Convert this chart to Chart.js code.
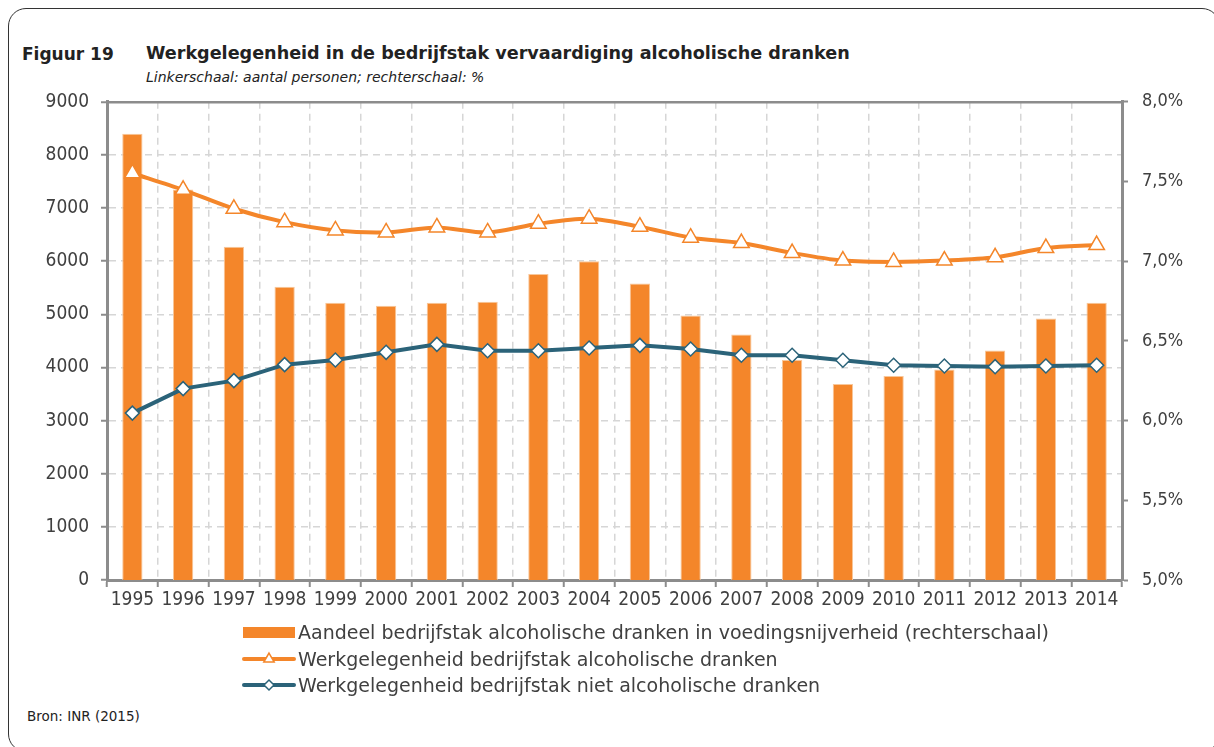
<!DOCTYPE html>
<html>
<head>
<meta charset="utf-8">
<script src="https://cdn.jsdelivr.net/npm/chart.js@4.4.0/dist/chart.umd.min.js"></script>
<style>
  html, body { margin: 0; padding: 0; background: #fff; }
  body { width: 1214px; height: 747px; position: relative; overflow: hidden; font-family: "DejaVu Sans", sans-serif; color: #333; }
  #frame { position: absolute; left: 8px; top: 8px; width: 1210px; height: 742px; border: 1.5px solid #333; border-radius: 18px; }
  #fig { position: absolute; left: 22px; top: 44px; font-weight: bold; font-size: 17px; color: #222; }
  #title { position: absolute; left: 146px; top: 43px; font-weight: bold; font-size: 17.6px; color: #222; }
  #sub { position: absolute; left: 146px; top: 69px; font-style: italic; font-size: 14px; color: #222; }
  #wrap { position: absolute; left: 0; top: 77px; width: 1214px; height: 533px; }
  #legend { position: absolute; left: 242px; top: 619px; font-size: 19px; color: #404040; }
  .row { height: 26.5px; display: flex; align-items: center; white-space: nowrap; }
  .row canvas { margin-right: 2px; }
  #bron { position: absolute; left: 27px; top: 708px; font-size: 13.5px; color: #222; }
</style>
</head>
<body>
<div id="frame"></div>
<div id="fig">Figuur 19</div>
<div id="title">Werkgelegenheid in de bedrijfstak vervaardiging alcoholische dranken</div>
<div id="sub">Linkerschaal: aantal personen; rechterschaal: %</div>
<div id="wrap"><canvas id="chart"></canvas></div>
<div id="legend"></div>
<div id="bron">Bron: INR (2015)</div>
<script>
// jaren en reeksen
var jaren = ['1995', '1996', '1997', '1998', '1999', '2000', '2001', '2002', '2003', '2004',
             '2005', '2006', '2007', '2008', '2009', '2010', '2011', '2012', '2013', '2014'];
var aandeelAlcohol = [7.80, 7.45, 7.09, 6.84, 6.74, 6.72, 6.74, 6.745, 6.92, 7.00,
                      6.86, 6.66, 6.54, 6.38, 6.23, 6.28, 6.32, 6.44, 6.64, 6.74];
var werkAlcohol = [7655, 7343, 6987, 6735, 6580, 6542, 6636, 6542, 6705, 6799,
                   6649, 6443, 6341, 6154, 6011, 5985, 6011, 6073, 6248, 6304];
var werkNietAlcohol = [3141, 3602, 3752, 4053, 4141, 4285, 4435, 4315, 4315, 4366,
                       4416, 4347, 4229, 4229, 4135, 4041, 4028, 4015, 4028, 4041];
var linksTicks = [0, 9000, 1000];
var rechtsTicks = [5, 8, 0.5];

var oranje = '#F4862A';
var blauw = '#2B6379';
var grijs = '#8c8c8c';
var raster = '#d6d6d6';
var tickFont = { family: 'DejaVu Sans Condensed', size: 19 };

var labels = {
  bar: 'Aandeel bedrijfstak alcoholische dranken in voedingsnijverheid (rechterschaal)',
  alc: 'Werkgelegenheid bedrijfstak alcoholische dranken',
  niet: 'Werkgelegenheid bedrijfstak niet alcoholische dranken'
};

var ctx = document.getElementById('chart').getContext('2d');
var chart = new Chart(ctx, {
  type: 'bar',
  data: {
    labels: jaren,
    datasets: [{
      type: 'line',
      label: labels.alc,
      data: werkAlcohol,
      yAxisID: 'y',
      borderColor: oranje,
      borderWidth: 4,
      tension: 0.3,
      pointStyle: 'triangle',
      pointRadius: 9,
      pointBackgroundColor: '#fff',
      pointBorderColor: oranje,
      pointBorderWidth: 1.5,
      order: 1
    }, {
      type: 'line',
      label: labels.niet,
      data: werkNietAlcohol,
      yAxisID: 'y',
      borderColor: blauw,
      borderWidth: 4,
      tension: 0,
      pointStyle: 'rectRot',
      pointRadius: 7,
      pointBackgroundColor: '#fff',
      pointBorderColor: blauw,
      pointBorderWidth: 1.5,
      order: 2
    }, {
      label: labels.bar,
      data: aandeelAlcohol,
      yAxisID: 'y1',
      backgroundColor: oranje,
      borderColor: '#f8c79a',
      borderWidth: 1,
      barPercentage: 0.4,
      categoryPercentage: 1.0,
      order: 3
    }]
  },
  options: {
    responsive: true,
    maintainAspectRatio: false,
    animation: false,
    layout: { padding: { top: 10, left: 0, right: 0, bottom: 0 } },
    plugins: {
      legend: { display: false },
      tooltip: { enabled: false }
    },
    scales: {
      x: {
        offset: true,
        grid: {
          offset: true,
          color: raster,
          lineWidth: 1.5,
          tickLength: 7,
          tickColor: grijs,
          tickWidth: 2
        },
        border: { color: grijs, width: 3, dash: [7, 5] },
        ticks: { color: '#404040', font: tickFont, padding: 2, maxRotation: 0, autoSkip: false },
        afterFit: function (s) { s.height = 30; }
      },
      y: {
        position: 'left',
        min: linksTicks[0],
        max: linksTicks[1],
        ticks: {
          stepSize: linksTicks[2], color: '#404040', font: tickFont, padding: 12,
          callback: function (v) { return String(v); }
        },
        grid: {
          color: function (c) { return c.tick && c.tick.value === linksTicks[1] ? grijs : raster; },
          lineWidth: function (c) { return c.tick && c.tick.value === linksTicks[1] ? 2.5 : 1.5; },
          tickLength: 6,
          tickColor: grijs,
          tickWidth: 2
        },
        border: {
          color: grijs, width: 3,
          dash: function (c) { return c.tick && c.tick.value === linksTicks[1] ? [] : [7, 5]; }
        },
        afterFit: function (s) { s.width = 107; }
      },
      y1: {
        position: 'right',
        min: rechtsTicks[0],
        max: rechtsTicks[1],
        ticks: {
          stepSize: rechtsTicks[2],
          color: '#404040',
          font: { family: 'DejaVu Sans Condensed', size: 18 },
          padding: 14,
          callback: function (v) { return v.toFixed(1).replace('.', ',') + '%'; }
        },
        grid: { drawOnChartArea: false, tickLength: 6, tickColor: grijs, tickWidth: 2 },
        border: { color: grijs, width: 3 },
        afterFit: function (s) { s.width = 92; }
      }
    }
  }
});

// legenda
function icoon(ds, isBar) {
  var c = document.createElement('canvas');
  c.width = 54; c.height = 24;
  var g = c.getContext('2d');
  if (isBar) {
    g.fillStyle = ds.backgroundColor;
    g.fillRect(1, 7, 52, 11);
  } else {
    g.strokeStyle = ds.borderColor;
    g.lineWidth = 4;
    g.lineCap = 'round';
    g.beginPath(); g.moveTo(2, 12); g.lineTo(52, 12); g.stroke();
    g.fillStyle = '#fff';
    g.lineWidth = 1.5;
    g.strokeStyle = ds.pointBorderColor;
    Chart.helpers.drawPoint(g, { pointStyle: ds.pointStyle, radius: ds.pointStyle === 'triangle' ? 6 : 5, borderWidth: 1.5 }, 27, 12);
  }
  return c;
}
var lg = document.getElementById('legend');
[[2, true], [0, false], [1, false]].forEach(function (p) {
  var ds = chart.data.datasets[p[0]];
  var row = document.createElement('div');
  row.className = 'row';
  row.appendChild(icoon(ds, p[1]));
  var t = document.createElement('span');
  t.textContent = ds.label;
  row.appendChild(t);
  lg.appendChild(row);
});
</script>
</body>
</html>
